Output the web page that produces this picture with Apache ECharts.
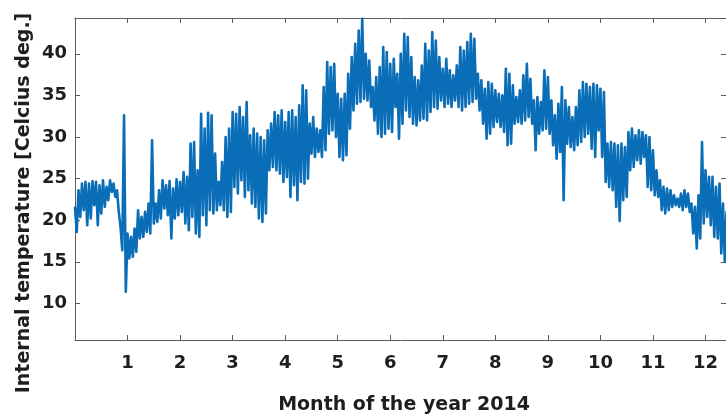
<!DOCTYPE html>
<html>
<head>
<meta charset="utf-8">
<script src="https://cdn.jsdelivr.net/npm/echarts@6/dist/echarts.min.js"></script>
<style>
  html, body { margin: 0; padding: 0; background: #ffffff; }
  #chart { width: 726px; height: 419px; }
</style>
</head>
<body>
<div id="chart"></div>
<script>
// Internal temperature readings for 2014, sampled every 1/15 month (~2 days).
// Each sample keeps the high and the low reached within that window.
const SAMPLES_PER_MONTH = 15;

const sampleHigh = [
  21.5, 23.6, 24.4, 24.6, 24.4, 24.7, 24.6, 24.2, 24.8, 24.0,
  24.8, 24.4, 23.6, 19.2, 32.6, 18.4, 18.0, 19.0, 21.2, 20.4,
  21.0, 22.0, 29.6, 22.0, 23.6, 24.8, 24.2, 24.7, 23.8, 24.9,
  24.6, 25.8, 25.2, 29.2, 29.4, 26.0, 32.8, 31.0, 32.9, 32.6,
  28.0, 24.6, 27.0, 30.0, 31.0, 33.0, 32.8, 33.6, 32.4, 34.2,
  30.2, 31.0, 30.4, 30.0, 29.6, 30.8, 31.6, 33.0, 32.6, 33.2,
  31.8, 33.0, 33.2, 32.4, 33.8, 36.2, 35.6, 31.6, 32.4, 31.0,
  30.8, 36.0, 39.0, 38.4, 38.8, 35.2, 34.6, 35.2, 37.6, 39.6,
  41.2, 42.8, 44.2, 40.0, 39.2, 36.0, 37.2, 38.4, 40.8, 40.2,
  38.8, 39.4, 37.6, 40.0, 42.4, 42.0, 39.6, 37.2, 36.8, 38.6,
  41.2, 40.4, 42.6, 41.6, 39.6, 38.2, 39.4, 38.0, 37.4, 38.6,
  40.8, 40.4, 41.4, 42.4, 41.8, 37.6, 36.8, 35.8, 36.6, 36.4,
  35.6, 35.2, 35.0, 38.2, 37.6, 36.2, 34.8, 35.6, 37.4, 38.8,
  37.0, 34.4, 34.8, 34.2, 38.0, 37.2, 34.4, 32.6, 34.0, 36.0,
  34.4, 33.6, 32.4, 33.6, 35.6, 36.6, 36.4, 36.0, 36.4, 36.2,
  35.8, 35.4, 29.2, 29.4, 29.2, 29.0, 29.2, 28.8, 30.6, 31.0,
  30.2, 30.8, 30.6, 30.2, 30.0, 28.4, 26.0, 24.8, 24.0, 23.8,
  23.6, 23.0, 22.6, 23.2, 23.6, 23.2, 22.0, 21.6, 23.0, 29.4,
  26.0, 25.2, 25.2, 24.0, 24.4, 22.0, 21.0
];

const sampleLow = [
  18.6, 20.4, 21.2, 19.4, 20.2, 21.8, 19.4, 20.8, 21.6, 22.4,
  23.4, 22.8, 21.0, 16.4, 11.4, 15.4, 15.6, 16.2, 17.8, 18.0,
  18.6, 18.4, 19.6, 19.8, 20.2, 21.4, 20.6, 17.8, 20.2, 20.6,
  21.0, 19.6, 18.8, 20.4, 18.4, 18.0, 20.6, 19.4, 21.2, 20.8,
  21.2, 21.8, 21.2, 20.4, 21.0, 24.0, 23.2, 24.8, 22.8, 23.6,
  22.0, 21.6, 20.2, 19.8, 20.8, 26.0, 26.4, 26.0, 25.6, 24.6,
  25.2, 22.8, 24.2, 22.4, 24.6, 24.4, 25.0, 28.0, 27.6, 28.2,
  27.6, 28.4, 30.4, 30.8, 30.0, 27.6, 27.2, 27.8, 31.0, 33.2,
  34.0, 34.2, 34.6, 34.4, 33.6, 32.0, 30.4, 30.0, 30.4, 31.0,
  30.6, 33.6, 29.8, 31.6, 33.2, 32.4, 31.6, 31.4, 32.0, 32.2,
  32.0, 33.0, 33.6, 33.4, 34.4, 33.6, 34.0, 33.6, 34.4, 33.6,
  33.2, 33.6, 34.0, 34.2, 34.6, 33.2, 31.6, 29.8, 30.4, 31.2,
  31.8, 31.2, 30.6, 29.0, 29.2, 31.6, 31.8, 31.6, 32.0, 32.4,
  31.6, 28.4, 30.4, 30.8, 31.0, 30.4, 29.0, 27.4, 28.2, 22.4,
  29.2, 28.8, 28.4, 29.0, 29.4, 30.0, 30.4, 28.6, 27.6, 30.8,
  27.6, 24.6, 24.0, 23.6, 21.6, 19.9, 22.4, 22.8, 26.0, 26.4,
  27.2, 26.8, 27.6, 24.0, 23.6, 23.0, 22.8, 21.2, 20.8, 21.2,
  21.6, 21.8, 21.6, 21.2, 21.6, 21.0, 18.4, 16.6, 17.8, 19.6,
  20.4, 19.4, 18.0, 17.8, 16.0, 15.0, 14.6
];

const monthTicks = [1, 2, 3, 4, 5, 6, 7, 8, 9, 10, 11, 12];
const tempTicks = [10, 15, 20, 25, 30, 35, 40];

const xTitle = 'Month of the year 2014';
const yTitle = 'Internal temperature [Celcius deg.]';

// Interleave each window's high and low into one continuous trace
const trace = [];
for (let i = 0; i < sampleHigh.length; i++) {
  const t = i / SAMPLES_PER_MONTH;
  trace.push([t, sampleHigh[i]]);
  trace.push([t + 0.5 / SAMPLES_PER_MONTH, sampleLow[i]]);
}

const FONT = 'DejaVu Sans';
const TEXT_COLOR = '#1e1e1e';
const AXIS_COLOR = '#5c5c5c';

const chart = echarts.init(document.getElementById('chart'), null, { renderer: 'canvas' });

const xRange = { min: 0, max: 12.39 };
const yRange = { min: 5.6, max: 44.3 };

chart.setOption({
  animation: false,
  backgroundColor: '#ffffff',
  grid: { left: 75, right: -1, top: 18, bottom: 79 },
  xAxis: [
    {
      type: 'value', position: 'bottom', ...xRange,
      axisLine: { show: true, onZero: false, lineStyle: { color: AXIS_COLOR, width: 1 } },
      axisTick: { show: true, inside: true, length: 5, customValues: monthTicks, lineStyle: { color: AXIS_COLOR } },
      axisLabel: { show: true, customValues: monthTicks, margin: 14, color: TEXT_COLOR,
                   fontFamily: FONT, fontWeight: 'bold', fontSize: 18 },
      splitLine: { show: false }
    },
    {
      type: 'value', position: 'top', ...xRange,
      axisLine: { show: true, onZero: false, lineStyle: { color: AXIS_COLOR, width: 1 } },
      axisTick: { show: true, inside: true, length: 5, customValues: monthTicks, lineStyle: { color: AXIS_COLOR } },
      axisLabel: { show: false },
      splitLine: { show: false }
    }
  ],
  yAxis: [
    {
      type: 'value', position: 'left', ...yRange,
      axisLine: { show: true, onZero: false, lineStyle: { color: AXIS_COLOR, width: 1 } },
      axisTick: { show: true, inside: true, length: 5, customValues: tempTicks, lineStyle: { color: AXIS_COLOR } },
      axisLabel: { show: true, customValues: tempTicks, margin: 8, color: TEXT_COLOR,
                   fontFamily: FONT, fontWeight: 'bold', fontSize: 18 },
      splitLine: { show: false }
    },
    {
      type: 'value', position: 'right', ...yRange,
      axisLine: { show: true, onZero: false, lineStyle: { color: AXIS_COLOR, width: 1 } },
      axisTick: { show: true, inside: true, length: 5, customValues: tempTicks, lineStyle: { color: AXIS_COLOR } },
      axisLabel: { show: false },
      splitLine: { show: false }
    }
  ],
  graphic: [
    {
      type: 'text', x: 404, y: 405,
      style: { text: xTitle, fill: TEXT_COLOR, font: 'bold 19px "' + FONT + '"',
               textAlign: 'center', textVerticalAlign: 'middle' }
    },
    {
      type: 'text', x: 24, y: 203, rotation: Math.PI / 2,
      style: { text: yTitle, fill: TEXT_COLOR, font: 'bold 19px "' + FONT + '"',
               textAlign: 'center', textVerticalAlign: 'middle' }
    }
  ],
  series: [
    {
      type: 'line',
      data: trace,
      xAxisIndex: 0,
      yAxisIndex: 0,
      showSymbol: false,
      symbol: 'none',
      clip: true,
      lineStyle: { color: '#0a6db8', width: 2.6, join: 'round', cap: 'round' }
    }
  ]
});
</script>
</body>
</html>
